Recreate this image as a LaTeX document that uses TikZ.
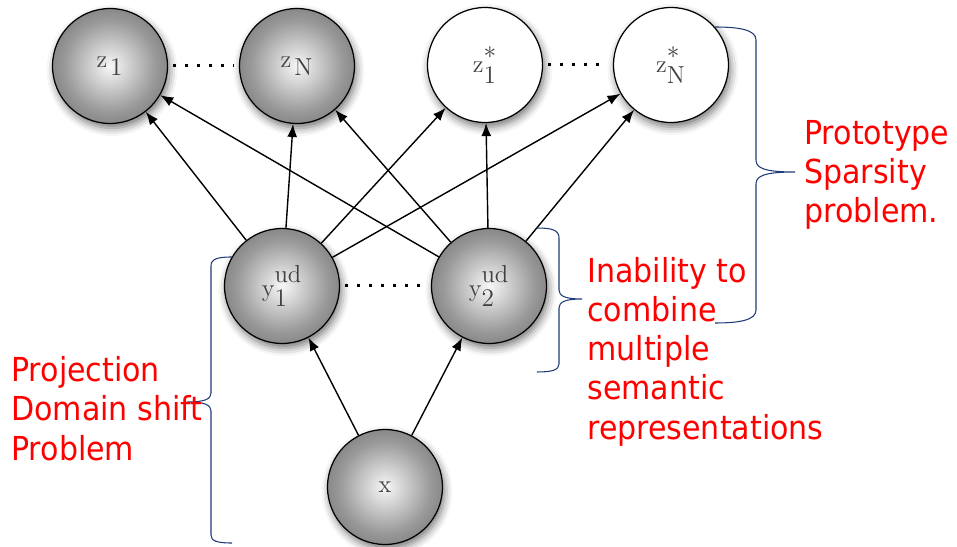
\documentclass[tikz,border=0pt]{standalone}
\usepackage{fontspec}
\newfontfamily\notefont[FakeStretch=0.91]{DejaVu Sans}
\usetikzlibrary{arrows.meta,shadows.blur}
\definecolor{notered}{HTML}{FF0000}
\definecolor{braceblue}{HTML}{1F3A78}
% grey sphere look for the latent nodes
\pgfdeclareradialshading{orb}{\pgfpoint{0bp}{0bp}}{color(0bp)=(black!3); color(20bp)=(black!40); color(50bp)=(black!78)}

\begin{document}
\begin{tikzpicture}[x=0.02cm,y=-0.02cm,
  ball/.style={circle,draw=black,line width=0.7pt,minimum size=2.3cm,inner sep=0pt,
    shade,shading=orb,text=black!75,font=\fontsize{14}{16}\selectfont,
    blur shadow={shadow xshift=0.04cm,shadow yshift=-0.09cm,shadow blur radius=0.16cm,shadow opacity=55}},
  hollow/.style={ball,shading=,shade=false,fill=white},
  edge/.style={-{Latex[length=0.26cm,width=0.2cm]},line width=0.8pt},
  dotline/.style={line width=0.06cm,dash pattern=on 0.06cm off 0.18cm,shorten <=0.1cm,shorten >=0.1cm},
  brace/.style={draw=braceblue,line width=0.6pt},
  note/.style={text=notered,font=\notefont\fontsize{18.8}{22.2}\selectfont,align=left,inner sep=0pt}]
  \useasboundingbox (0,0) rectangle (957,547);

  % top layer
  \node[ball] (z1) at (110,66) {$\mathrm{z}_{\,\textstyle 1}$};
  \node[ball] (zN) at (297,66) {$\mathrm{z}_{\,\textstyle\mathrm{N}}$};
  \node[hollow] (zs1) at (485,65) {$\mathrm{z}^{\textstyle *\rule[-3pt]{0pt}{0pt}}_{\textstyle 1}$};
  \node[hollow] (zsN) at (671,65) {$\mathrm{z}^{\textstyle *\rule[-3pt]{0pt}{0pt}}_{\textstyle\mathrm{N}}$};
  % middle and input
  \node[ball] (y1) at (282,286) {$\mathrm{y}^{\textstyle\mathrm{ud}\rule[-3pt]{0pt}{0pt}}_{\textstyle 1}$};
  \node[ball] (y2) at (489,286) {$\mathrm{y}^{\textstyle\mathrm{ud}\rule[-3pt]{0pt}{0pt}}_{\textstyle 2}$};
  \node[ball] (x) at (385,487) {$\mathrm{x}$};

  \draw[dotline] (z1) -- (zN);
  \draw[dotline] (zs1) -- (zsN);
  \draw[dotline] (y1) -- (y2);

  \foreach \s in {y1,y2}
    \foreach \t in {z1,zN,zs1,zsN}
      \draw[edge] (\s) -- (\t);
  \draw[edge] (x) -- (y1);
  \draw[edge] (x) -- (y2);

  % braces
  \draw[brace] (715,27) .. controls (740,27) and (756,30) .. (756,40) -- (756,160)
    .. controls (756,168) and (764,172) .. (795,172) .. controls (764,172) and (756,176) .. (756,184)
    -- (756,310) .. controls (756,320) and (740,323) .. (715,323);
  \draw[brace] (537,228) .. controls (552,228) and (559,230) .. (559,238) -- (559,290)
    .. controls (559,296) and (565,299) .. (582,299) .. controls (565,299) and (559,302) .. (559,308)
    -- (559,364) .. controls (559,370) and (552,372) .. (537,372);
  \draw[brace] (232,257) .. controls (217,257) and (211,259) .. (211,266) -- (211,393)
    .. controls (211,399) and (205,402) .. (187,402) .. controls (205,402) and (211,405) .. (211,411)
    -- (211,535) .. controls (211,541) and (217,543) .. (232,543);

  % base anchor sits on the last line
  \node[note,anchor=base west] (proto) at (804,223) {Prototype\\Sparsity\\problem.};
  \node[note,anchor=base west] (combine) at (587,439) {Inability to\\combine\\multiple\\semantic\\representations};
  \node[note,anchor=base west] (shift) at (11,460) {Projection\\Domain shift\\Problem};
\end{tikzpicture}
\end{document}
